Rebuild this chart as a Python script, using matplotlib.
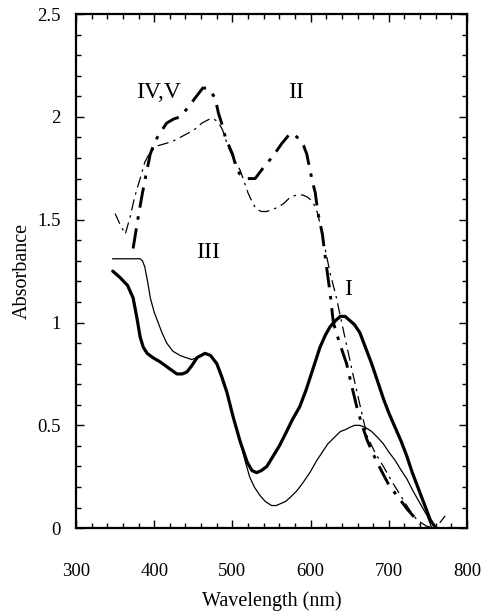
"""Absorption spectra of complexes I-V."""

import matplotlib
matplotlib.use("Agg")
import matplotlib.pyplot as plt
from matplotlib.ticker import MultipleLocator

# wavelength (nm) / absorbance read per curve
wl_I = [347, 356, 366, 373, 378, 382, 386, 391, 398, 407, 418, 429, 436, 442, 448,
        455, 460, 465, 472, 480, 486, 493, 501, 510, 519, 525, 531, 537, 544, 552,
        560, 568, 577, 586, 594, 600, 606, 612, 619, 625, 632, 638, 644, 650, 656,
        663, 670, 678, 686, 693, 700, 708, 716, 723, 730, 738, 746, 753, 760]
ab_I = [1.25, 1.22, 1.18, 1.12, 1.02, 0.93, 0.88, 0.85, 0.83, 0.81, 0.78, 0.75,
        0.75, 0.76, 0.79, 0.83, 0.84, 0.85, 0.84, 0.80, 0.74, 0.66, 0.54, 0.42,
        0.32, 0.28, 0.27, 0.28, 0.30, 0.35, 0.40, 0.46, 0.53, 0.59, 0.67, 0.74,
        0.81, 0.88, 0.94, 0.98, 1.01, 1.03, 1.03, 1.01, 0.99, 0.95, 0.88, 0.80,
        0.71, 0.63, 0.56, 0.49, 0.42, 0.35, 0.27, 0.19, 0.11, 0.04, 0.0]

wl_III = [347, 365, 382, 385, 388, 392, 395, 400, 405, 410, 416, 424, 433, 440, 448,
          455, 460, 465, 472, 480, 486, 493, 501, 510, 516, 522, 528, 535, 542, 550,
          556, 562, 568, 574, 582, 590, 599, 608, 615, 622, 630, 638, 645, 650, 656,
          663, 670, 678, 686, 693, 700, 708, 716, 723, 731, 740, 749, 755]
ab_III = [1.31, 1.31, 1.31, 1.30, 1.27, 1.19, 1.12, 1.05, 1.00, 0.95, 0.90, 0.86,
          0.84, 0.83, 0.82, 0.83, 0.84, 0.85, 0.84, 0.80, 0.74, 0.66, 0.54, 0.42,
          0.33, 0.25, 0.20, 0.16, 0.13, 0.11, 0.11, 0.12, 0.13, 0.15, 0.18, 0.22,
          0.27, 0.33, 0.37, 0.41, 0.44, 0.47, 0.48, 0.49, 0.50, 0.50, 0.49, 0.47,
          0.44, 0.41, 0.37, 0.33, 0.28, 0.24, 0.18, 0.12, 0.06, 0.0]

wl_II = [373, 379, 384, 388, 395, 401, 407, 416, 425, 433, 442, 450, 456, 462, 468,
         473, 478, 482, 487, 491, 500, 506, 512, 519, 529, 539, 552, 563, 574, 580,
         586, 591, 595, 602, 606, 609, 615, 620, 625, 629, 637, 646, 652, 659, 665,
         672, 680, 689, 700, 714, 724, 731, 740]
ab_II = [1.36, 1.50, 1.61, 1.69, 1.82, 1.88, 1.92, 1.97, 1.99, 2.00, 2.04, 2.08,
         2.11, 2.14, 2.14, 2.12, 2.09, 2.02, 1.96, 1.90, 1.82, 1.74, 1.71, 1.70,
         1.70, 1.75, 1.81, 1.87, 1.92, 1.91, 1.89, 1.86, 1.82, 1.69, 1.63, 1.54,
         1.43, 1.28, 1.14, 1.00, 0.90, 0.80, 0.70, 0.59, 0.51, 0.43, 0.36, 0.29,
         0.21, 0.14, 0.09, 0.06, 0.02]

wl_IV = [350, 356, 363, 369, 375, 382, 388, 395, 405, 414, 423, 433, 443, 452, 461,
         466, 471, 476, 480, 484, 487, 490, 493, 501, 510, 520, 526, 531, 537, 544,
         551, 558, 566, 574, 582, 590, 596, 602, 606, 609, 615, 620, 625, 633, 638,
         646, 654, 663, 672, 682, 693, 705, 718, 728, 736, 748, 760, 766, 772]
ab_IV = [1.53, 1.48, 1.43, 1.51, 1.61, 1.70, 1.78, 1.83, 1.86, 1.87, 1.88, 1.90,
         1.92, 1.94, 1.97, 1.98, 1.99, 1.99, 1.98, 1.96, 1.94, 1.91, 1.87, 1.80,
         1.74, 1.63, 1.58, 1.55, 1.54, 1.54, 1.55, 1.56, 1.58, 1.61, 1.62, 1.62,
         1.61, 1.59, 1.56, 1.53, 1.43, 1.33, 1.24, 1.12, 1.03, 0.89, 0.75, 0.60,
         0.45, 0.37, 0.30, 0.22, 0.14, 0.08, 0.04, 0.01, 0.0, 0.03, 0.06]

curve_labels = ["IV,V", "II", "III", "I"]
label_pos = [(405, 2.12), (581, 2.12), (469, 1.34), (648, 1.16)]

plt.rcParams.update({
    "font.family": ["Liberation Serif", "DejaVu Serif"],
    "font.size": 13,
})

fig = plt.figure(figsize=(4.84, 6.12), dpi=100)
ax = fig.add_axes([0.157, 0.137, 0.808, 0.840])

ax.plot(wl_I, ab_I, color="black", linewidth=2.3, solid_capstyle="round",
        solid_joinstyle="round")
ax.plot(wl_III, ab_III, color="black", linewidth=0.9, solid_joinstyle="round")
ax.plot(wl_II, ab_II, color="black", linewidth=2.1, dashes=(7, 3, 1.2, 3))
ax.plot(wl_IV, ab_IV, color="black", linewidth=0.9, dashes=(9, 4, 2, 4))

for text, (x, y) in zip(curve_labels, label_pos):
    ax.text(x, y, text, ha="center", va="center", fontsize=17)

ax.set_xlim(300, 800)
ax.set_ylim(0, 2.5)
ax.xaxis.set_major_locator(MultipleLocator(100))
ax.xaxis.set_minor_locator(MultipleLocator(20))
ax.yaxis.set_minor_locator(MultipleLocator(0.1))
ax.set_yticks([0, 0.5, 1, 1.5, 2, 2.5])
ax.set_yticklabels(["0", "0.5", "1", "1.5", "2", "2.5"])
ax.tick_params(which="both", direction="in", top=True, right=True, width=1.0)
ax.tick_params(which="major", length=6, labelsize=13.5)
ax.tick_params(which="minor", length=3.5)
ax.tick_params(axis="x", which="major", pad=25)
ax.tick_params(axis="y", which="major", pad=11)
for spine in ax.spines.values():
    spine.set_linewidth(1.6)

ax.set_xlabel("Wavelength (nm)", fontsize=14.5, labelpad=8)
ax.set_ylabel("Absorbance", fontsize=14.5, labelpad=4)

fig.savefig("out.png", dpi=100)
